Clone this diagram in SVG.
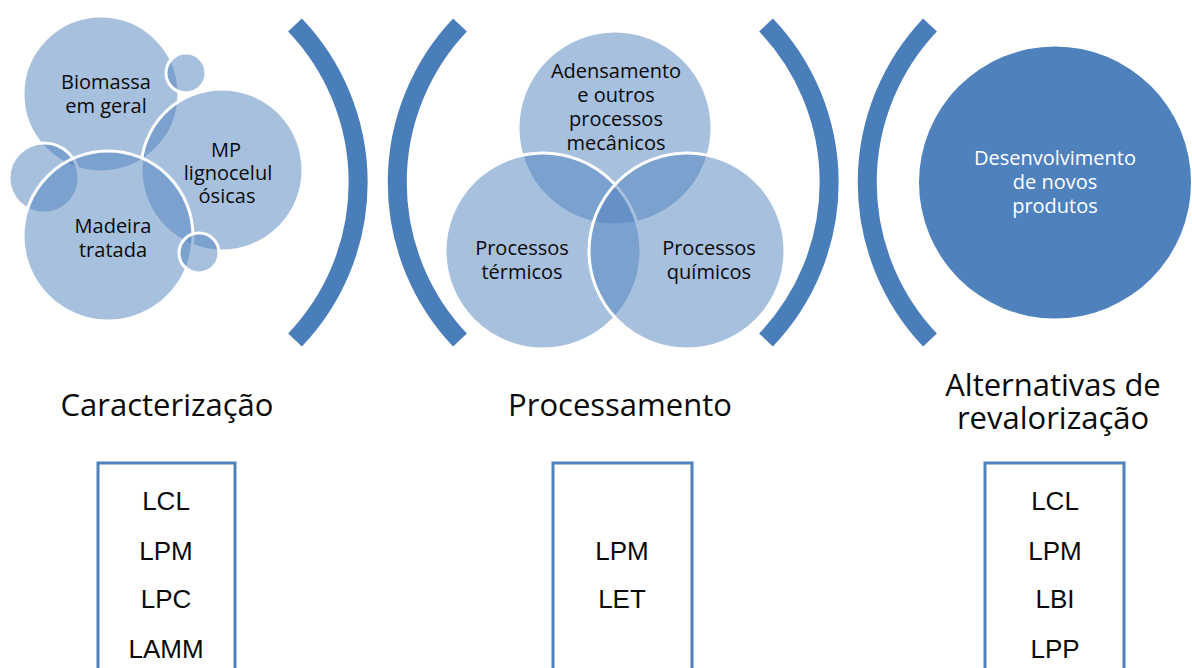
<svg xmlns="http://www.w3.org/2000/svg" width="1192" height="668" viewBox="0 0 1192 668">
  <style>
    .bub { fill: #4F81BD; fill-opacity: 0.5; stroke: #ffffff; stroke-width: 3; }
    .solid { fill: #4F81BD; stroke: none; }
    .arc { fill: none; stroke: #4A7EBB; stroke-width: 19; stroke-linecap: butt; }
    .lbl { font-family: "Open Sans", "Liberation Sans", sans-serif; font-size: 20px; fill: #0a0a0a; text-anchor: middle; }
    .lbl-w { font-family: "Open Sans", "Liberation Sans", sans-serif; font-size: 20px; fill: #ffffff; text-anchor: middle; }
    .head { font-family: "Open Sans", "Liberation Sans", sans-serif; font-size: 31px; fill: #0a0a0a; text-anchor: middle; }
    .box { fill: #ffffff; stroke: #4F81BD; stroke-width: 3; }
    .code { font-family: "Liberation Sans", Arial, sans-serif; font-size: 26px; fill: #0a0a0a; text-anchor: middle; }
  </style>
  <rect width="1192" height="668" fill="#ffffff"/>

  <!-- Raw materials cluster -->
  <g id="node-biomassa">
    <circle class="bub" cx="101" cy="94" r="78"/>
    <text class="lbl"><tspan x="106" y="89">Biomassa</tspan><tspan x="106" y="113">em geral</tspan></text>
  </g>
  <g id="node-dot-top">
    <circle class="bub" cx="186" cy="73" r="20"/>
  </g>
  <g id="node-mp">
    <circle class="bub" cx="222" cy="170" r="81"/>
    <text class="lbl"><tspan x="226" y="157">MP</tspan><tspan x="228" y="180">lignocelul</tspan><tspan x="227" y="203">ósicas</tspan></text>
  </g>
  <g id="node-dot-left">
    <circle class="bub" cx="44" cy="178" r="35"/>
  </g>
  <g id="node-madeira">
    <circle class="bub" cx="108" cy="236" r="85"/>
    <text class="lbl"><tspan x="113" y="233">Madeira</tspan><tspan x="113" y="257">tratada</tspan></text>
  </g>
  <g id="node-dot-bottom">
    <circle class="bub" cx="199" cy="253" r="20"/>
  </g>

  <!-- Processing Venn -->
  <g id="node-adensamento">
    <circle class="bub" cx="615" cy="128" r="97"/>
    <text class="lbl"><tspan x="616" y="78">Adensamento</tspan><tspan x="616" y="102">e outros</tspan><tspan x="616" y="126">processos</tspan><tspan x="616" y="150">mecânicos</tspan></text>
  </g>
  <g id="node-termicos">
    <circle class="bub" cx="543" cy="251" r="98"/>
    <text class="lbl"><tspan x="522" y="255">Processos</tspan><tspan x="522" y="279">térmicos</tspan></text>
  </g>
  <g id="node-quimicos">
    <circle class="bub" cx="687" cy="251" r="98"/>
    <text class="lbl"><tspan x="709" y="255">Processos</tspan><tspan x="709" y="279">químicos</tspan></text>
  </g>

  <!-- New products -->
  <g id="node-produtos">
    <circle class="solid" cx="1055" cy="182.5" r="136"/>
    <text class="lbl-w"><tspan x="1055" y="165">Desenvolvimento</tspan><tspan x="1055" y="189">de novos</tspan><tspan x="1055" y="213">produtos</tspan></text>
  </g>

  <!-- Bracket separators -->
  <g id="connectors">
    <path class="arc" d="M 295 25 A 228 228 0 0 1 295 340"/>
    <path class="arc" d="M 460 25 A 229 229 0 0 0 460 340"/>
    <path class="arc" d="M 766 25 A 228 228 0 0 1 766 340"/>
    <path class="arc" d="M 930 25 A 229 229 0 0 0 930 340"/>
  </g>

  <!-- Stage headings -->
  <g id="head-caracterizacao">
    <text class="head" x="167" y="416">Caracterização</text>
  </g>
  <g id="head-processamento">
    <text class="head" x="620" y="416">Processamento</text>
  </g>
  <g id="head-alternativas">
    <text class="head"><tspan x="1053" y="396">Alternativas de</tspan><tspan x="1053" y="429">revalorização</tspan></text>
  </g>

  <!-- Laboratory lists -->
  <g id="box-caracterizacao">
    <rect class="box" x="98" y="463" width="137" height="220"/>
    <text class="code"><tspan x="166" y="510">LCL</tspan><tspan x="166" y="560">LPM</tspan><tspan x="166" y="608">LPC</tspan><tspan x="166" y="658">LAMM</tspan></text>
  </g>
  <g id="box-processamento">
    <rect class="box" x="553" y="463" width="139" height="220"/>
    <text class="code"><tspan x="622" y="560">LPM</tspan><tspan x="622" y="608">LET</tspan></text>
  </g>
  <g id="box-alternativas">
    <rect class="box" x="985" y="463" width="139" height="220"/>
    <text class="code"><tspan x="1055" y="510">LCL</tspan><tspan x="1055" y="560">LPM</tspan><tspan x="1055" y="608">LBI</tspan><tspan x="1055" y="658">LPP</tspan></text>
  </g>
</svg>
